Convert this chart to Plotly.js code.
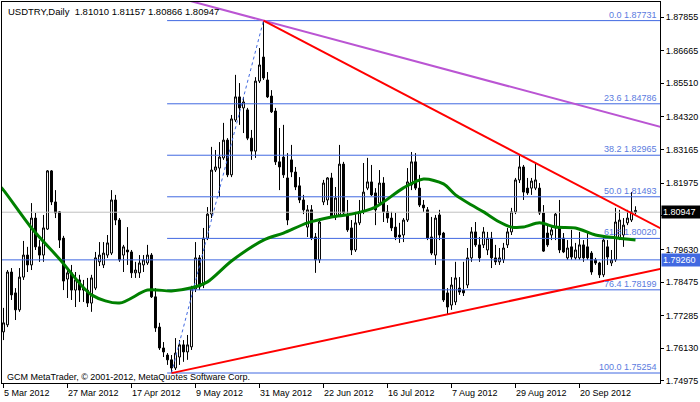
<!DOCTYPE html>
<html>
<head>
<meta charset="utf-8">
<script src="https://cdn.plot.ly/plotly-3.0.1.min.js"></script>
<style>html,body{margin:0;padding:0;background:#fff;}#chart{width:700px;height:402px;}</style>
</head>
<body>
<div id="chart"></div>
<script>
const open = [1.7671,1.7696,1.7883,1.7809,1.7749,1.7865,1.7943,1.7908,1.8074,1.7972,
1.7943,1.8035,1.8241,1.8131,1.8096,1.8003,1.7858,1.7880,1.7819,1.7855,
1.7819,1.7819,1.7773,1.7826,1.7919,1.7908,1.7943,1.7950,1.8138,1.8067,
1.7943,1.7961,1.7954,1.7880,1.7880,1.7908,1.7915,1.7943,1.7795,1.7688,
1.7614,1.7589,1.7572,1.7543,1.7582,1.7625,1.7600,1.7618,1.7823,1.7933,
1.7837,1.8003,1.8088,1.8244,1.8251,1.8287,1.8350,1.8227,1.8421,1.8503,
1.8464,1.8457,1.8357,1.8311,1.8559,1.8644,1.8563,1.8506,1.8453,1.8273,
1.8290,1.8216,1.8280,1.8237,1.8188,1.8138,1.8042,1.8103,1.8007,1.7926,
1.8131,1.8138,1.8216,1.8078,1.8085,1.8265,1.8085,1.8039,1.7961,1.8057,
1.8096,1.8180,1.8202,1.8163,1.8127,1.8198,1.8096,1.8074,1.8042,1.8014,
1.8014,1.8067,1.8191,1.8273,1.8180,1.8120,1.8103,1.8007,1.7943,1.8085,
1.8021,1.7809,1.7766,1.7777,1.7826,1.7819,1.7837,1.7933,1.8025,1.7979,
1.7979,1.7961,1.8003,1.7933,1.7919,1.7926,1.7979,1.8025,1.8096,1.8209,
1.8255,1.8180,1.8180,1.8180,1.8180,1.8092,1.8021,1.8014,1.8039,1.8042,
1.8003,1.7933,1.7972,1.7933,1.7933,1.7979,1.7972,1.7950,1.7926,1.7915,
1.7873,1.7972,1.7915,1.7926,1.8003,1.8014,1.8057,1.8067,1.81010];
const high = [1.7756,1.7890,1.7897,1.7826,1.7897,1.7993,1.7972,1.8127,1.8092,1.7996,
1.8085,1.8244,1.8244,1.8173,1.8099,1.8011,1.7897,1.7908,1.7883,1.7873,
1.7855,1.7862,1.7873,1.7954,1.7989,1.7989,1.8014,1.8173,1.8156,1.8074,
1.7979,1.8042,1.7961,1.7919,1.7943,1.7943,1.7979,1.7950,1.7826,1.7703,
1.7635,1.7596,1.7589,1.7649,1.7642,1.7642,1.7660,1.7834,1.7989,1.7943,
1.8039,1.8113,1.8326,1.8315,1.8343,1.8411,1.8357,1.8439,1.8581,1.8552,
1.8503,1.8464,1.8386,1.8573,1.8676,1.8773,1.8591,1.8527,1.8464,1.8393,
1.8404,1.8304,1.8333,1.8255,1.8219,1.8156,1.8120,1.8120,1.8021,1.8074,
1.8209,1.8219,1.8234,1.8184,1.8333,1.8273,1.8138,1.8067,1.8096,1.8138,
1.8269,1.8287,1.8262,1.8180,1.8244,1.8219,1.8120,1.8096,1.8092,1.8057,
1.8074,1.8251,1.8308,1.8304,1.8227,1.8138,1.8113,1.8078,1.8085,1.8103,
1.8025,1.7826,1.7865,1.7919,1.7865,1.7919,1.7968,1.8042,1.8060,1.8007,
1.8042,1.8025,1.8025,1.7979,1.7968,1.7986,1.8039,1.8110,1.8216,1.8297,
1.8262,1.8216,1.8216,1.8269,1.8198,1.8120,1.8049,1.8042,1.8092,1.8138,
1.8021,1.7996,1.8032,1.7986,1.8025,1.7996,1.8021,1.7957,1.7933,1.7919,
1.8007,1.7996,1.7961,1.8110,1.8103,1.8074,1.8103,1.8166,1.81157];
const low = [1.7642,1.7688,1.7784,1.7713,1.7742,1.7855,1.7883,1.7890,1.7961,1.7919,
1.7919,1.8032,1.8120,1.8074,1.7968,1.7819,1.7791,1.7784,1.7759,1.7777,
1.7777,1.7759,1.7742,1.7819,1.7904,1.7897,1.7933,1.7943,1.8049,1.7919,
1.7883,1.7908,1.7862,1.7862,1.7862,1.7883,1.7908,1.7791,1.7671,1.7607,
1.7582,1.7554,1.7525,1.7536,1.7554,1.7565,1.7572,1.7607,1.7812,1.7819,
1.7826,1.7996,1.8074,1.8237,1.8149,1.8280,1.8219,1.8219,1.8414,1.8404,
1.8375,1.8350,1.8280,1.8287,1.8552,1.8563,1.8499,1.8446,1.8262,1.8173,
1.8216,1.8049,1.8219,1.8173,1.8127,1.8088,1.8007,1.7996,1.7880,1.7915,
1.8120,1.8120,1.8074,1.8067,1.8078,1.8085,1.8025,1.7943,1.7954,1.8049,
1.8088,1.8173,1.8152,1.8049,1.8120,1.8060,1.8057,1.8028,1.7996,1.7986,
1.7989,1.8060,1.8173,1.8173,1.8113,1.8096,1.7996,1.7943,1.7908,1.7996,
1.7777,1.7731,1.7749,1.7766,1.7802,1.7798,1.7826,1.7919,1.7972,1.7919,
1.7968,1.7943,1.7897,1.7908,1.7908,1.7915,1.7968,1.8014,1.8088,1.8198,
1.8138,1.8156,1.8156,1.8173,1.8085,1.7954,1.7972,1.7996,1.7996,1.7950,
1.7950,1.7926,1.7926,1.7926,1.7926,1.7919,1.7926,1.7873,1.7908,1.7862,
1.7865,1.7908,1.7904,1.7919,1.7996,1.7972,1.8049,1.8060,1.80866];
const close = [1.7703,1.7883,1.7802,1.7749,1.7865,1.7943,1.7908,1.8074,1.7972,1.7943,
1.8039,1.8241,1.8131,1.8092,1.7996,1.7851,1.7880,1.7819,1.7855,1.7819,
1.7826,1.7773,1.7862,1.7933,1.7943,1.7950,1.7986,1.8138,1.8067,1.7926,
1.7972,1.7954,1.7880,1.7890,1.7915,1.7926,1.7943,1.7795,1.7685,1.7614,
1.7600,1.7572,1.7543,1.7596,1.7625,1.7600,1.7625,1.7823,1.7933,1.7830,
1.8003,1.8088,1.8244,1.8255,1.8290,1.8350,1.8227,1.8425,1.8503,1.8464,
1.8485,1.8357,1.8311,1.8559,1.8616,1.8570,1.8503,1.8450,1.8273,1.8255,
1.8227,1.8067,1.8237,1.8184,1.8138,1.8103,1.8103,1.8003,1.7926,1.8060,
1.8198,1.8216,1.8078,1.8145,1.8265,1.8092,1.8032,1.7961,1.8057,1.8096,
1.8166,1.8202,1.8156,1.8103,1.8198,1.8096,1.8074,1.8039,1.8007,1.8007,
1.8067,1.8202,1.8273,1.8180,1.8120,1.8110,1.8003,1.7950,1.8074,1.8014,
1.7784,1.7759,1.7837,1.7862,1.7812,1.7809,1.7933,1.8025,1.7979,1.7933,
1.8025,1.8003,1.7933,1.7919,1.7933,1.7968,1.8025,1.8096,1.8209,1.8255,
1.8166,1.8163,1.8205,1.8209,1.8092,1.7957,1.7979,1.8032,1.8088,1.7961,
1.7954,1.7968,1.7936,1.7961,1.7979,1.7933,1.7933,1.7883,1.7915,1.7873,
1.7996,1.7936,1.7926,1.8060,1.8067,1.8049,1.8074,1.8096,1.80947];

// Moving average (read at sampled bars)
const maIdx = [-1,0,7,14,22,29,36,42,47,51,57,65,70,76,82,87,93,100,105,110,113,117,120,124,127,130,134,138,143,148,153,158];
const maVal = [1.8188,1.8173,1.8039,1.7929,1.7802,1.7773,1.7819,1.7816,1.7827,1.7848,1.7922,1.7996,1.8021,1.8057,1.8078,1.8088,1.8113,1.8181,1.8212,1.8195,1.8156,1.8120,1.8096,1.8060,1.8042,1.8042,1.8057,1.8042,1.8039,1.8014,1.8004,1.7996];

// Fibonacci retracement
const fibLevels = ['0.0','23.6','38.2','50.0','61.8','76.4','100.0'];
const fibPrices = [1.87731,1.84786,1.82965,1.81493,1.80020,1.78199,1.75254];
const fibStartIdx = 40.9;
const fibTrendIdx = [42,65];
const fibTrendVal = [1.75254,1.87731];

// Trend lines
const purpleIdx = [45,164.2];
const purpleVal = [1.8849,1.8397];
const redDownIdx = [65,164.2];
const redDownVal = [1.87731,1.8038];
const redUpIdx = [42,164.2];
const redUpVal = [1.7525,1.7894];

// Horizontal levels
const levelPrice = 1.79260;
const bidPrice = 1.80947;

// Axis ticks (1.80820 sits under the bid-price box, so its text is hidden)
const yTicks = [1.87855,1.86665,1.85510,1.84320,1.83165,1.81975,1.80820,1.79630,1.78475,1.77285,1.76130,1.74975];
const yTickText = ['1.87855','1.86665','1.85510','1.84320','1.83165','1.81975','','1.79630','1.78475','1.77285','1.76130','1.74975'];
const xTickIdx = [0,16,32,48,64,80,96,112,128,144];
const xTickText = ['5 Mar 2012','27 Mar 2012','17 Apr 2012','9 May 2012','31 May 2012','22 Jun 2012','16 Jul 2012','7 Aug 2012','29 Aug 2012','20 Sep 2012'];

const titleText = 'USDTRY,Daily \u00a01.81010 1.81157 1.80866 1.80947';
const copyrightText = 'GCM MetaTrader, \u00a9 2001-2012, MetaQuotes Software Corp.';

const FONT = 'Liberation Sans, Arial, sans-serif';
const BLUE = '#4169E1';
const XMIN = -0.375, XMAX = 164.125;

const idx = open.map((_, i) => i);
const traces = [];

traces.push({type:'scatter', mode:'lines', x:[XMIN-2, XMAX+2], y:[bidPrice,bidPrice], line:{color:'#C0C0C0', width:1}, hoverinfo:'skip'});
traces.push({type:'scatter', mode:'lines', x:[XMIN-2, XMAX+2], y:[levelPrice,levelPrice], line:{color:BLUE, width:1}, hoverinfo:'skip'});
fibPrices.forEach(p => {
  traces.push({type:'scatter', mode:'lines', x:[fibStartIdx, XMAX+2], y:[p,p], line:{color:BLUE, width:1}, hoverinfo:'skip'});
});
traces.push({type:'scatter', mode:'lines', x:fibTrendIdx, y:fibTrendVal, line:{color:BLUE, width:1, dash:'dot'}, hoverinfo:'skip'});

traces.push({
  type:'candlestick', x:idx, open:open, high:high, low:low, close:close,
  increasing:{line:{color:'#000000', width:1}, fillcolor:'#FFFFFF'},
  decreasing:{line:{color:'#000000', width:1}, fillcolor:'#000000'},
  whiskerwidth:0, hoverinfo:'skip'
});

traces.push({type:'scatter', mode:'lines', x:maIdx, y:maVal, line:{color:'#008000', width:3, shape:'spline', smoothing:0.8}, hoverinfo:'skip'});
traces.push({type:'scatter', mode:'lines', x:purpleIdx, y:purpleVal, line:{color:'#BA55D3', width:2}, hoverinfo:'skip'});
traces.push({type:'scatter', mode:'lines', x:redDownIdx, y:redDownVal, line:{color:'#FF0000', width:2}, hoverinfo:'skip'});
traces.push({type:'scatter', mode:'lines', x:redUpIdx, y:redUpVal, line:{color:'#FF0000', width:2}, hoverinfo:'skip'});

const annotations = [];
fibPrices.forEach((p, i) => {
  annotations.push({xref:'paper', yref:'y', x:0.9965, y:p, xanchor:'right', yanchor:'bottom',
    text: fibLevels[i] + ' ' + p.toFixed(5), showarrow:false, font:{family:FONT, size:9, color:'#5A7BE0'}, borderpad:0});
});
xTickIdx.forEach((v, i) => {
  annotations.push({xref:'x', yref:'paper', x:v, y:-0.027, xanchor:'left', yanchor:'middle',
    text:xTickText[i], showarrow:false, font:{family:FONT, size:9, color:'#000'}, borderpad:0, xshift:-1});
});
annotations.push({xref:'paper', yref:'paper', x:0.007, y:0.976, xanchor:'left', yanchor:'middle', text:titleText, showarrow:false, font:{family:FONT, size:9.5, color:'#000'}, borderpad:0});
annotations.push({xref:'paper', yref:'paper', x:0.006, y:0.016, xanchor:'left', yanchor:'middle', text:copyrightText, showarrow:false, font:{family:FONT, size:9, color:'#000'}, borderpad:0});
annotations.push({xref:'paper', yref:'y', x:1.0015, y:bidPrice, xanchor:'left', yanchor:'middle', text:bidPrice.toFixed(5), showarrow:false, font:{family:FONT, size:9, color:'#FFFFFF'}, bgcolor:'#000000', borderpad:1, width:36, align:'left'});
annotations.push({xref:'paper', yref:'y', x:1.0015, y:levelPrice, xanchor:'left', yanchor:'middle', text:levelPrice.toFixed(5), showarrow:false, font:{family:FONT, size:9, color:'#FFFFFF'}, bgcolor:BLUE, borderpad:1, width:36, align:'left'});

const layout = {
  width:700, height:402, autosize:false,
  margin:{l:2, r:40, t:2, b:19, pad:0},
  paper_bgcolor:'#FFFFFF', plot_bgcolor:'#FFFFFF',
  showlegend:false, hovermode:false,
  font:{family:FONT, size:9, color:'#000'},
  xaxis:{type:'linear', range:[XMIN, XMAX], autorange:false, fixedrange:true,
    rangeslider:{visible:false}, showgrid:false, zeroline:false,
    showline:true, mirror:true, linecolor:'#000', linewidth:1,
    tickmode:'array', tickvals:xTickIdx, ticktext:xTickIdx.map(()=>''), ticks:'outside', ticklen:4, tickcolor:'#000', showticklabels:false},
  yaxis:{range:[1.7490, 1.8839], autorange:false, fixedrange:true, side:'right',
    showgrid:false, zeroline:false, showline:true, mirror:true, linecolor:'#000', linewidth:1,
    tickmode:'array', tickvals:yTicks, ticktext:yTickText, ticks:'outside', ticklen:3, tickcolor:'#000',
    tickfont:{family:FONT, size:9, color:'#000'}},
  annotations:annotations
};

Plotly.newPlot('chart', traces, layout, {displayModeBar:false, staticPlot:true});
</script>
</body>
</html>
